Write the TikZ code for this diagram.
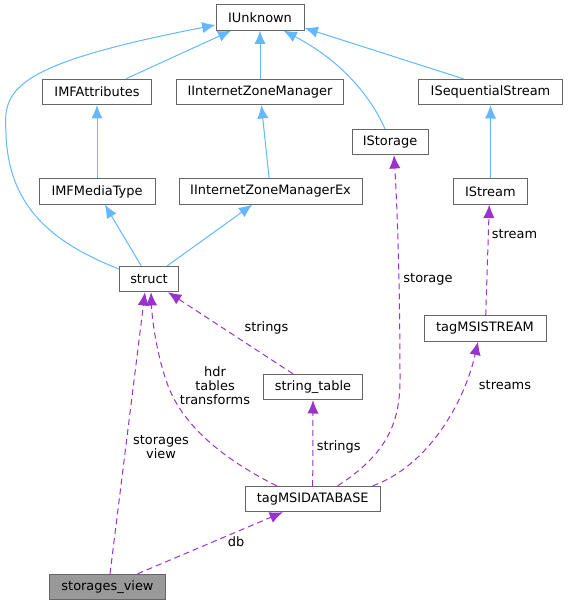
\documentclass[tikz,border=0pt]{standalone}
\usepackage{fontspec}
\setmainfont{DejaVu Sans}
\usetikzlibrary{arrows.meta,calc}
\definecolor{inhblue}{HTML}{63B8FF}
\definecolor{usepurple}{HTML}{9A32CD}
\definecolor{boxgray}{HTML}{666666}
\definecolor{fillgray}{HTML}{999999}
\tikzset{
  cls/.style={draw=boxgray,line width=0.75pt,fill=white,inner sep=0pt,minimum height=19pt,font=\fontsize{9.7}{10.5}\selectfont},
  cur/.style={cls,fill=fillgray},
  inh/.style={draw=inhblue,line width=0.75pt,-{Latex[length=10pt,width=8.5pt]}},
  use/.style={draw=usepurple,line width=0.75pt,dash pattern=on 4.5pt off 3pt,-{Latex[length=10pt,width=8.5pt]}},
  lbl/.style={font=\fontsize{9.7}{10.5}\selectfont,align=center,inner sep=0pt}
}
\begin{document}
\begin{tikzpicture}[x=0.75pt,y=-0.75pt]
\useasboundingbox (0,0) rectangle (567,605);
% nodes
\node[cls,minimum width=66pt] (IUnknown) at (260,17.5) {IUnknown};
\node[cls,minimum width=81.75pt] (IMFAttributes) at (97,92) {IMFAttributes};
\node[cls,minimum width=125.25pt] (IIZM) at (260,92) {IInternetZoneManager};
\node[cls,minimum width=107.7pt] (ISeq) at (490.5,92) {ISequentialStream};
\node[cls,minimum width=57pt] (IStorage) at (390,142) {IStorage};
\node[cls,minimum width=87pt] (IMFMediaType) at (97,191.5) {IMFMediaType};
\node[cls,minimum width=137.25pt] (IIZMEx) at (270.5,191.5) {IInternetZoneManagerEx};
\node[cls,minimum width=55.5pt] (IStream) at (490.3,191.5) {IStream};
\node[cls,minimum width=44.25pt] (struct) at (149,279) {struct};
\node[cls,minimum width=91.5pt] (msistream) at (485,328.5) {tagMSISTREAM};
\node[cls,minimum width=74.25pt] (strtab) at (313,387) {string\_table};
\node[cls,minimum width=101.25pt] (msidb) at (312.7,499) {tagMSIDATABASE};
\node[cur,minimum width=87pt] (sview) at (107.5,587) {storages\_view};
% inheritance
\draw[inh] (IMFAttributes) -- (IUnknown);
\draw[inh] (IIZM) -- (IUnknown);
\draw[inh] ($(IStorage.north)+(-5,0)$) .. controls (370,95) and (340,60) .. ($(IUnknown.south east)+(-21,0)$);
\draw[inh] ($(ISeq.north)+(-27,0)$) -- ($(IUnknown.east)+(0,10.5)$);
\draw[inh] ($(struct.west)+(0,-10)$) .. controls (50,242) and (8,205) .. (6,133) .. controls (3,90) and (10,65) .. ($(IUnknown.west)+(0,7.5)$);
\draw[inh] (IMFMediaType) -- (IMFAttributes);
\draw[inh] (IIZMEx) -- (IIZM);
\draw[inh] (struct) -- (IMFMediaType);
\draw[inh] (struct) -- (IIZMEx);
\draw[inh] (IStream.north) -- (ISeq.south);
% usage
\draw[use] ($(msistream.north)+(0.7,0)$) -- ($(IStream.south)+(-1,0)$);
\node[lbl] (lstream) at (514.5,234) {stream};
\draw[use] ($(msidb.north east)+(-43,0)$) .. controls (385,455) and (400,425) .. (400,380) .. controls (400,300) and (398,220) .. ($(IStorage.south)+(4,0)$);
\node[lbl] (lstorage) at (428,279) {storage};
\draw[use] ($(msidb.north east)+(-8,0)$) .. controls (430,465) and (465,400) .. ($(msistream.south)+(-7,0)$);
\node[lbl] (lstreams) at (505,385) {streams};
\draw[use] (msidb.north) -- (strtab.south);
\node[lbl] (lstrings2) at (338.7,447) {strings};
\draw[use] ($(strtab.north)+(-20,0)$) -- ($(struct.south east)+(-11,0)$);
\node[lbl] (lstrings1) at (266.5,327.7) {strings};
\draw[use] ($(msidb.north)+(-36,0)$) .. controls (215,455) and (180,420) .. (167,383) .. controls (157,355) and (152,320) .. ($(struct.south)+(2,0)$);
\node[lbl] (lhdr) at (215,386) {hdr\\tables\\transforms};
\draw[use] ($(sview.north)+(2.5,0)$) -- ($(struct.south)+(-4,0)$);
\node[lbl] (lsv) at (161,447) {storages\\view};
\draw[use] ($(sview.north east)+(-28.5,0)$) -- ($(msidb.south)+(-29.7,0)$);
\node[lbl] (ldb) at (236,542) {db};
\end{tikzpicture}
\end{document}
